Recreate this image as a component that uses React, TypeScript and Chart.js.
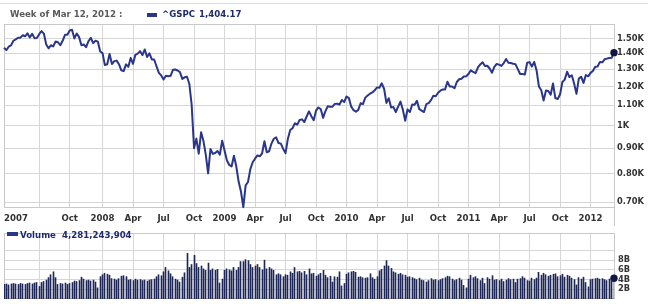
import React, { useEffect, useRef } from 'react';
import { Chart, registerables } from 'chart.js';

Chart.register(...registerables);

// ---------- data ----------
// weekly closes of ^GSPC, week of Mar 19 2007 (index 0) .. week of Mar 12 2012 (index 260)
const closes2007 = [1436.11, 1420.86, 1443.76, 1452.85, 1484.35, 1494.07, 1505.62, 1505.85, 1522.75, 1515.73, 1536.34, 1507.67, 1532.91, 1502.56, 1503.35, 1530.44, 1552.5, 1534.1, 1458.95, 1433.06, 1453.64, 1445.94, 1479.37, 1473.99, 1453.55, 1484.25, 1525.75, 1526.75, 1557.59, 1561.8, 1500.63, 1535.28, 1509.65, 1453.7, 1458.74, 1440.7, 1481.14, 1504.66, 1467.95, 1484.46, 1478.49];
const closes2008 = [1411.63, 1401.02, 1325.19, 1330.61, 1395.42, 1331.29, 1349.99, 1353.11, 1330.63, 1293.37, 1288.14, 1329.51, 1315.22, 1370.4, 1332.83, 1390.33, 1397.84, 1413.9, 1388.28, 1425.35, 1375.93, 1400.38, 1360.68, 1360.03, 1317.93, 1278.38, 1262.9, 1239.49, 1260.68, 1257.76, 1260.31, 1296.32, 1298.2, 1292.2, 1282.83, 1242.31, 1251.7, 1255.08, 1213.27, 1099.23, 899.22, 940.55, 876.77, 968.75, 930.99, 873.29, 800.03, 896.24, 876.07, 879.73, 887.88, 872.8];
const closes2009 = [931.8, 890.35, 850.12, 831.95, 825.88, 868.6, 826.84, 770.05, 735.09, 683.38, 756.55, 768.54, 815.94, 842.5, 856.56, 869.6, 866.23, 877.52, 929.23, 882.88, 887.0, 919.14, 940.09, 946.21, 921.23, 918.9, 896.42, 879.13, 940.38, 979.26, 987.48, 1010.48, 1004.09, 1026.13, 1028.93, 1016.4, 1042.73, 1068.3, 1044.38, 1025.21, 1071.49, 1087.68, 1079.6, 1036.19, 1069.3, 1093.48, 1091.38, 1091.49, 1105.98, 1106.41, 1102.47, 1126.48, 1115.1];
const closes2010 = [1144.98, 1136.03, 1091.76, 1073.87, 1066.19, 1075.51, 1109.17, 1104.49, 1138.7, 1149.99, 1159.9, 1166.59, 1178.1, 1194.37, 1192.13, 1217.28, 1186.69, 1110.88, 1135.68, 1087.69, 1089.41, 1064.88, 1091.6, 1117.51, 1076.76, 1022.58, 1077.96, 1064.88, 1102.66, 1101.6, 1121.64, 1079.25, 1071.69, 1064.59, 1104.51, 1109.55, 1125.59, 1148.67, 1146.24, 1165.15, 1176.19, 1183.08, 1183.26, 1225.85, 1199.21, 1199.73, 1189.4, 1224.71, 1240.4, 1243.91, 1256.77, 1257.64];
const closes2011 = [1271.5, 1293.24, 1283.35, 1276.34, 1310.87, 1329.15, 1343.01, 1319.88, 1321.15, 1304.28, 1279.21, 1313.8, 1332.41, 1328.17, 1319.68, 1337.38, 1363.61, 1340.2, 1337.77, 1333.27, 1331.1, 1300.16, 1270.98, 1271.5, 1268.45, 1339.67, 1343.8, 1316.14, 1345.02, 1292.28, 1199.38, 1178.81, 1123.53, 1176.8, 1173.97, 1154.23, 1216.01, 1136.43, 1131.42, 1155.46, 1224.58, 1238.25, 1285.09, 1253.23, 1263.85, 1215.65, 1158.67, 1244.28, 1255.19, 1219.66, 1265.33, 1257.6];
const closes2012 = [1277.81, 1289.09, 1315.38, 1316.33, 1344.9, 1342.64, 1361.23, 1365.74, 1369.63, 1370.87, 1404.17];

// weekly average daily volume, billions
const volume2007 = [3.0, 3.1, 2.9, 3.1, 3.2, 3.1, 3.0, 3.2, 3.1, 3.0, 3.2, 3.3, 3.1, 3.3, 3.4, 2.6, 3.4, 3.6, 3.9, 4.4, 5.0, 5.6, 4.4, 3.0, 3.2, 3.1, 3.3, 3.0, 3.2, 3.4, 3.7, 3.6, 3.8, 4.5, 4.1, 3.8, 3.9, 3.7, 3.9, 3.5, 2.3];
const volume2008 = [4.6, 5.0, 5.3, 5.1, 4.9, 4.2, 4.1, 3.9, 4.2, 4.7, 4.8, 4.6, 3.9, 4.0, 3.8, 4.1, 3.9, 4.0, 3.8, 3.9, 3.7, 3.9, 4.0, 4.1, 4.6, 5.0, 4.8, 5.6, 6.5, 5.8, 5.2, 4.6, 4.1, 3.9, 3.5, 4.5, 5.4, 9.4, 6.5, 7.1, 9.0, 7.3, 6.5, 6.8, 6.2, 5.9, 7.4, 5.9, 6.2, 5.9, 6.1, 3.3];
const volume2009 = [4.1, 5.9, 6.2, 6.0, 5.8, 6.5, 5.9, 6.5, 7.7, 7.7, 8.1, 7.9, 7.1, 6.5, 6.8, 7.1, 6.5, 6.0, 8.0, 6.2, 6.5, 6.2, 5.9, 5.0, 5.2, 5.0, 4.6, 5.0, 4.9, 5.6, 5.3, 6.5, 5.6, 5.7, 5.4, 5.7, 5.0, 6.2, 5.2, 5.3, 4.7, 5.0, 5.3, 5.9, 4.9, 4.4, 4.7, 3.5, 4.6, 4.5, 5.6, 2.7, 3.2];
const volume2010 = [5.1, 5.4, 5.6, 5.7, 5.5, 4.5, 4.6, 4.4, 4.3, 4.4, 5.2, 4.4, 4.1, 4.6, 5.8, 6.1, 6.8, 7.9, 6.8, 6.3, 5.6, 5.4, 5.1, 5.3, 5.0, 4.9, 4.5, 4.6, 4.4, 4.2, 4.0, 4.3, 3.9, 3.8, 3.5, 3.8, 4.2, 3.9, 4.0, 3.8, 4.0, 4.2, 4.4, 4.7, 4.6, 4.1, 3.8, 4.0, 4.3, 3.9, 2.8, 2.3];
const volume2011 = [4.1, 4.9, 4.4, 4.6, 4.2, 3.8, 4.3, 3.2, 4.4, 4.1, 4.8, 3.9, 4.0, 3.8, 4.1, 3.6, 3.9, 4.2, 4.0, 4.1, 3.4, 4.1, 4.2, 4.6, 4.3, 3.8, 3.7, 4.3, 4.0, 4.3, 5.5, 4.9, 5.3, 5.0, 4.7, 4.9, 5.1, 5.2, 4.6, 4.8, 5.1, 4.5, 4.9, 4.7, 4.3, 4.0, 2.9, 4.4, 4.1, 4.5, 3.4, 2.5];
const volume2012 = [4.0, 4.1, 4.2, 4.3, 4.1, 4.2, 4.0, 3.8, 4.1, 3.9, 4.281243904];

const closes = [...closes2007, ...closes2008, ...closes2009, ...closes2010, ...closes2011, ...closes2012];
const volumes = [...volume2007, ...volume2008, ...volume2009, ...volume2010, ...volume2011, ...volume2012];

// x axis: week index of each quarter gridline and its label
const xTickWeeks = [0, 15, 28, 42, 55, 68, 81, 94, 107, 120, 133, 146, 159, 172, 185, 198, 211, 224, 237, 250];
const xTickLabels = ['2007', '', 'Oct', '2008', 'Apr', 'Jul', 'Oct', '2009', 'Apr', 'Jul', 'Oct', '2010', 'Apr', 'Jul', 'Oct', '2011', 'Apr', 'Jul', 'Oct', '2012'];

const priceTicks = [700, 800, 900, 1000, 1100, 1200, 1300, 1400, 1500];
const priceTickLabels = ['0.70K', '0.80K', '0.90K', '1K', '1.10K', '1.20K', '1.30K', '1.40K', '1.50K'];
const volumeTicks = [2, 4, 6, 8, 10];
const volumeTickLabels = ['2B', '4B', '6B', '8B', ''];

const headerDate = 'Week of Mar 12, 2012 :';
const seriesName = '^GSPC';
const seriesLast = '1,404.17';
const volumeName = 'Volume';
const volumeLast = '4,281,243,904';

// ---------- styles ----------
const FONT = '"DejaVu Sans", Verdana, sans-serif';
const LINE = '#2a3689';
const BAR = '#1e2755';
const DOT = '#0f1845';
const GRID = '#d6d6d6';
const FRAME = '#c9c9c9';
const AXIS_TEXT = '#333333';
const HEAD_GRAY = '#5a5a5a';
const NAVY_TEXT = '#1f2a6e';

const framePlugin = {
  id: 'frame',
  beforeDatasetsDraw(chart: any) {
    const { ctx, chartArea: a } = chart;
    ctx.save();
    ctx.strokeStyle = FRAME;
    ctx.lineWidth = 1;
    ctx.strokeRect(Math.round(a.left) + 0.5, Math.round(a.top) + 0.5, Math.round(a.right - a.left), Math.round(a.bottom - a.top) - 1);
    ctx.restore();
  },
};

// snap the library-computed bar centres to whole device pixels so 1px bars stay crisp
const snapBarsPlugin = {
  id: 'snapBars',
  afterDatasetsUpdate(chart: any) {
    const meta = chart.getDatasetMeta(0);
    meta.data.forEach((el: any) => {
      el.x = Math.floor(el.x) + 0.5;
    });
  },
};

const xLabelPlugin = {
  id: 'xLabels',
  afterDraw(chart: any) {
    const { ctx, chartArea: a } = chart;
    const xs = chart.scales.x;
    ctx.save();
    ctx.font = 'bold 8.6px ' + FONT;
    ctx.fillStyle = AXIS_TEXT;
    ctx.textBaseline = 'alphabetic';
    xTickWeeks.forEach((w, k) => {
      const label = xTickLabels[k];
      if (!label) return;
      if (k === 0) {
        ctx.textAlign = 'left';
        ctx.fillText(label, a.left, a.bottom + 12.7);
      } else {
        ctx.textAlign = 'center';
        ctx.fillText(label, xs.getPixelForValue(w), a.bottom + 12.7);
      }
    });
    ctx.restore();
  },
};

const xScale = (h: number) => ({
  type: 'linear',
  min: 0,
  max: closes.length - 1,
  offset: false,
  grid: { color: GRID, drawTicks: false, offset: false },
  border: { display: false },
  ticks: { display: false },
  afterBuildTicks: (s: any) => {
    s.ticks = xTickWeeks.map((v) => ({ value: v }));
  },
  afterFit: (s: any) => {
    s.height = h;
  },
});

export default function App() {
  const priceRef = useRef<HTMLCanvasElement>(null);
  const volRef = useRef<HTMLCanvasElement>(null);

  useEffect(() => {
    Chart.defaults.font.family = FONT;
    const last = closes.length - 1;
    const c1 = new Chart(priceRef.current as HTMLCanvasElement, {
      type: 'line',
      data: {
        datasets: [
          {
            data: closes.map((v, i) => ({ x: i, y: v })),
            borderColor: LINE,
            borderWidth: 2,
            borderJoinStyle: 'round',
            tension: 0,
            pointRadius: (ctx: any) => (ctx.dataIndex === last ? 3.7 : 0),
            pointBackgroundColor: DOT,
            pointBorderWidth: 0,
            clip: false,
          } as any,
        ],
      },
      options: {
        animation: false,
        responsive: false,
        maintainAspectRatio: false,
        devicePixelRatio: 1,
        events: [],
        layout: { padding: { left: 3, top: 24, right: 0, bottom: 0 } },
        plugins: { legend: { display: false }, tooltip: { enabled: false }, title: { display: false } },
        scales: {
          x: xScale(16) as any,
          y: {
            type: 'logarithmic',
            position: 'right',
            min: 680.7,
            max: 1604.9,
            grid: { color: GRID, drawTicks: false },
            border: { display: false },
            ticks: {
              autoSkip: false,
              padding: 3,
              color: AXIS_TEXT,
              font: { size: 8.3, weight: 'bold', family: FONT },
              callback: (v: any) => priceTickLabels[priceTicks.indexOf(Number(v))] ?? '',
            },
            afterBuildTicks: (s: any) => {
              s.ticks = priceTicks.map((v) => ({ value: v }));
            },
            afterFit: (s: any) => {
              s.width = 34;
            },
          } as any,
        },
      },
      plugins: [framePlugin, xLabelPlugin],
    });

    const c2 = new Chart(volRef.current as HTMLCanvasElement, {
      type: 'bar',
      data: {
        datasets: [
          {
            type: 'bar',
            data: volumes.map((v, i) => ({ x: i, y: v })),
            backgroundColor: BAR,
            barThickness: 1,
            borderWidth: 0,
          } as any,
          {
            type: 'line',
            data: [{ x: last, y: volumes[last] }],
            showLine: false,
            pointRadius: 3.7,
            pointBackgroundColor: DOT,
            pointBorderWidth: 0,
            clip: false,
          } as any,
        ],
      },
      options: {
        animation: false,
        responsive: false,
        maintainAspectRatio: false,
        devicePixelRatio: 1,
        events: [],
        layout: { padding: { left: 3, top: 1, right: 0, bottom: 3.5 } },
        plugins: { legend: { display: false }, tooltip: { enabled: false }, title: { display: false } },
        scales: {
          x: xScale(0) as any,
          y: {
            type: 'linear',
            position: 'right',
            min: 0,
            max: 13.59,
            grid: { color: GRID, drawTicks: false },
            border: { display: false },
            ticks: {
              autoSkip: false,
              padding: 4,
              color: AXIS_TEXT,
              font: { size: 8.3, weight: 'bold', family: FONT },
              callback: (v: any) => volumeTickLabels[volumeTicks.indexOf(Number(v))] ?? '',
            },
            afterBuildTicks: (s: any) => {
              s.ticks = volumeTicks.map((v) => ({ value: v }));
            },
            afterFit: (s: any) => {
              s.width = 34;
            },
          } as any,
        },
      },
      plugins: [framePlugin, snapBarsPlugin],
    });

    return () => {
      c1.destroy();
      c2.destroy();
    };
  }, []);

  const text = (color: string): React.CSSProperties => ({
    position: 'absolute',
    fontFamily: FONT,
    fontSize: '8.6px',
    lineHeight: '11px',
    fontWeight: 'bold',
    color,
    whiteSpace: 'nowrap',
  });

  return (
    <div style={{ position: 'fixed', left: 0, top: 0, width: 648, height: 304, overflow: 'hidden', background: '#ffffff' }}>
      <canvas ref={priceRef} width={648} height={224} style={{ position: 'absolute', left: 0, top: 0, width: 648, height: 224 }} />
      <canvas ref={volRef} width={648} height={84} style={{ position: 'absolute', left: 0, top: 224, width: 648, height: 84 }} />
      <div style={{ position: 'absolute', left: 0, top: 3, width: 648, height: 1, background: '#dcdcdc' }} />
      <div style={{ position: 'absolute', left: 614, top: 207, width: 1, height: 19, background: FRAME }} />
      <div style={{ ...text(HEAD_GRAY), left: 10, top: 9 }}>{headerDate}</div>
      <div style={{ position: 'absolute', left: 147, top: 13, width: 10, height: 4, background: LINE }} />
      <div style={{ ...text(NAVY_TEXT), left: 162, top: 9 }}>{seriesName}</div>
      <div style={{ ...text(NAVY_TEXT), left: 199, top: 9 }}>{seriesLast}</div>
      <div style={{ position: 'absolute', left: 7, top: 232, width: 11, height: 4, background: LINE }} />
      <div style={{ ...text(NAVY_TEXT), left: 20, top: 229.5 }}>{volumeName}</div>
      <div style={{ ...text(NAVY_TEXT), left: 62, top: 229.5 }}>{volumeLast}</div>
    </div>
  );
}
